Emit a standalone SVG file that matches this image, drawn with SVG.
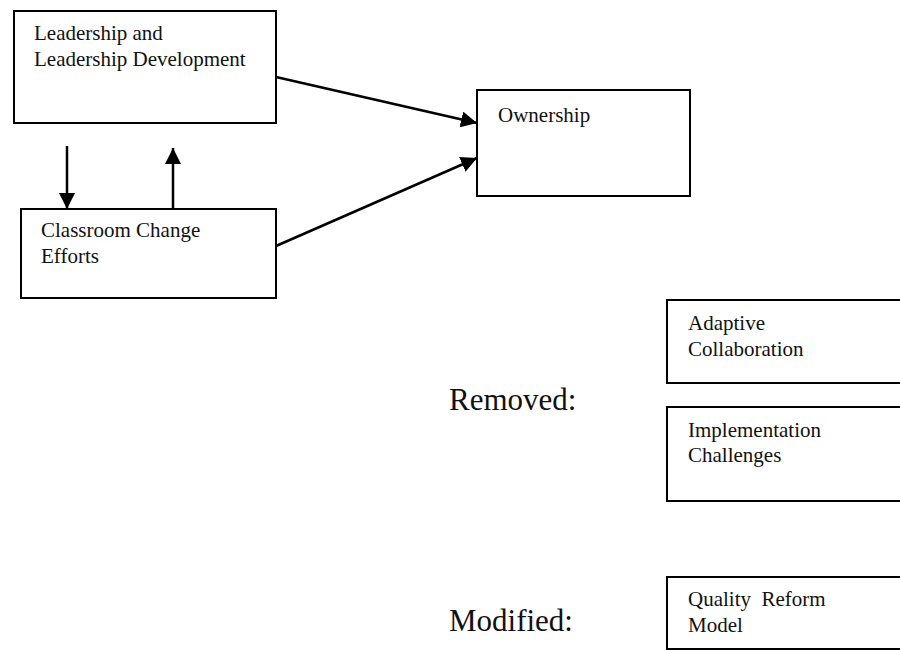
<svg xmlns="http://www.w3.org/2000/svg" width="900" height="650" viewBox="0 0 900 650">
<style>
.box{fill:#fff;stroke:#000;stroke-width:2}
.t{font-family:"Liberation Serif","Times New Roman",serif;font-size:21px;fill:#111}
.big{font-family:"Liberation Serif","Times New Roman",serif;font-size:31px;fill:#111}
.edge{stroke:#000;stroke-width:2.5;fill:none;marker-end:url(#ah)}
</style>
<defs>
<marker id="ah" markerUnits="userSpaceOnUse" markerWidth="17" markerHeight="16" refX="16" refY="8" orient="auto">
<path d="M0,0 L16,8 L0,16 Z" fill="#000"/>
</marker>
</defs>
<rect width="900" height="650" fill="#fff"/>
<g id="connectors">
<line class="edge" x1="276" y1="77" x2="477" y2="123"/>
<line class="edge" x1="276" y1="246" x2="477" y2="158"/>
<line class="edge" x1="67" y1="146" x2="67" y2="209"/>
<line class="edge" x1="173" y1="209" x2="173" y2="148"/>
</g>
<g id="leadership">
<rect class="box" x="14" y="11" width="262" height="112"/>
<text class="t" x="34" y="40">Leadership and</text>
<text class="t" x="34" y="66">Leadership Development</text>
</g>
<g id="classroom">
<rect class="box" x="21" y="209" width="255" height="89"/>
<text class="t" x="41" y="237">Classroom Change</text>
<text class="t" x="41" y="263">Efforts</text>
</g>
<g id="ownership">
<rect class="box" x="477" y="90" width="213" height="106"/>
<text class="t" x="498" y="122">Ownership</text>
</g>
<text class="big" x="449" y="410">Removed:</text>
<text class="big" x="449" y="631">Modified:</text>
<g id="adaptive">
<rect class="box" x="667" y="300" width="240" height="83"/>
<text class="t" x="688" y="330">Adaptive</text>
<text class="t" x="688" y="356">Collaboration</text>
</g>
<g id="implementation">
<rect class="box" x="667" y="407" width="240" height="94"/>
<text class="t" x="688" y="437">Implementation</text>
<text class="t" x="688" y="462">Challenges</text>
</g>
<g id="quality">
<rect class="box" x="667" y="577" width="240" height="72"/>
<text class="t" x="688" y="606" xml:space="preserve">Quality  Reform</text>
<text class="t" x="688" y="632">Model</text>
</g>
</svg>
